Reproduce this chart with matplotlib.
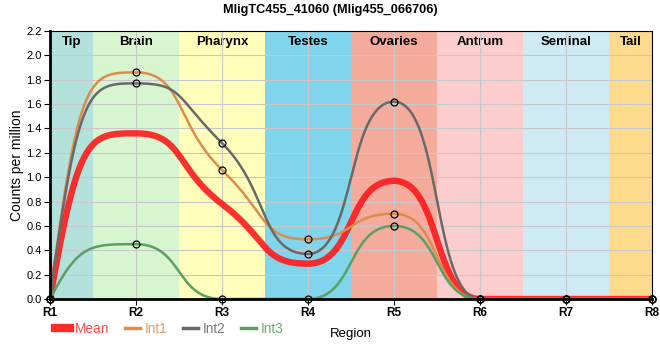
import numpy as np
import matplotlib

matplotlib.use("Agg")
import matplotlib.pyplot as plt
from matplotlib.lines import Line2D
from matplotlib.transforms import blended_transform_factory

plt.rcParams["font.family"] = ["Liberation Sans", "DejaVu Sans"]

# values
regions = ["R1", "R2", "R3", "R4", "R5", "R6", "R7", "R8"]
mean_cpm = [0.0, 1.36, 0.78, 0.29, 0.97, 0.0, 0.0, 0.0]
int1_cpm = [0.0, 1.86, 1.06, 0.49, 0.70, 0.0, 0.0, 0.0]
int2_cpm = [0.0, 1.77, 1.28, 0.37, 1.62, 0.0, 0.0, 0.0]
int3_cpm = [0.0, 0.45, 0.0, 0.0, 0.60, 0.0, 0.0, 0.0]

tissues = ["Tip", "Brain", "Pharynx", "Testes", "Ovaries", "Antrum", "Seminal", "Tail"]
tissue_colors = ["#b3e1dc", "#d7f5cf", "#ffffbb", "#80d4ec",
                 "#f5ab9c", "#fdcccc", "#ceebf5", "#fedb8c"]


def smooth(xs, ys, c=0.55, n=100):
    """bezier spline through the points, flat at extrema"""
    xs = np.asarray(xs, dtype=float)
    ys = np.asarray(ys, dtype=float)
    d = np.diff(ys) / np.diff(xs)
    m = np.zeros(len(xs))
    for i in range(1, len(xs) - 1):
        if d[i - 1] * d[i] > 0:
            s = (ys[i + 1] - ys[i - 1]) / (xs[i + 1] - xs[i - 1])
            lim = 3 * min(abs(d[i - 1]), abs(d[i]))
            m[i] = np.sign(s) * min(abs(s), lim)
    t = np.linspace(0, 1, n)[:, None]
    pts = []
    for i in range(len(xs) - 1):
        h = xs[i + 1] - xs[i]
        p0 = np.array([xs[i], ys[i]])
        p3 = np.array([xs[i + 1], ys[i + 1]])
        if i == 0:
            # steep start from the first point
            p1 = np.array([xs[i] + h / 3, ys[i + 1]])
        else:
            p1 = np.array([xs[i] + c * h, ys[i] + c * h * m[i]])
        p2 = np.array([xs[i + 1] - c * h, ys[i + 1] - c * h * m[i + 1]])
        seg = ((1 - t) ** 3) * p0 + 3 * ((1 - t) ** 2) * t * p1 + 3 * (1 - t) * t**2 * p2 + t**3 * p3
        pts.append(seg)
    pts = np.vstack(pts)
    return pts[:, 0], pts[:, 1]


x = np.arange(1, len(regions) + 1)
edges = np.concatenate([[x[0]], (x[:-1] + x[1:]) / 2, [x[-1]]])

fig = plt.figure(figsize=(6.6, 3.6), dpi=100)
ax = fig.add_axes([50 / 660, 1 - 299 / 360, 602 / 660, 268 / 360])

for (lo, hi), name, col in zip(zip(edges[:-1], edges[1:]), tissues, tissue_colors):
    ax.axvspan(lo, hi, color=col, lw=0, zorder=0)
    ax.text((lo + hi) / 2, 0.958, name, transform=blended_transform_factory(ax.transData, ax.transAxes),
            ha="center", va="center", fontsize=9.5, fontweight="bold", zorder=1)

series = [
    ("Int1", int1_cpm, "#de8b4c"),
    ("Int2", int2_cpm, "#696969"),
    ("Int3", int3_cpm, "#5c9f62"),
]

sx, sy = smooth(x, mean_cpm)
ax.plot(sx, sy, color="#ff1a1a", lw=4.6, alpha=0.9, solid_capstyle="butt", zorder=3)
for name, vals, col in series:
    sx, sy = smooth(x, vals)
    ax.plot(sx, sy, color=col, lw=1.8, zorder=4)
    ax.plot(x, vals, ls="none", marker="o", ms=5, mfc="none", mec="black", mew=0.9,
            zorder=6, clip_on=False)

ax.set_xlim(1, 8)
ax.set_ylim(0, 2.2)
ax.set_xticks(x)
ax.set_xticklabels(regions, fontsize=8.5, fontweight="bold")
ax.set_yticks(np.arange(0, 2.21, 0.2))
ax.set_yticklabels([f"{v:.1f}" for v in np.arange(0, 2.21, 0.2)], fontsize=8)
ax.tick_params(axis="both", length=4, width=0.8, color="black", pad=2)
ax.grid(True, color="#c8c8c8", lw=0.8, zorder=1)
ax.set_axisbelow(False)
for g in ax.get_xgridlines() + ax.get_ygridlines():
    g.set_zorder(1)

ax.spines["left"].set_linewidth(2)
ax.spines["bottom"].set_linewidth(2)
ax.spines["top"].set_linewidth(0.8)
ax.spines["right"].set_linewidth(0.8)
for sp in ax.spines.values():
    sp.set_zorder(5)

ax.set_ylabel("Counts per million", fontsize=10)
ax.yaxis.set_label_coords(-0.043, 0.5)
ax.set_xlabel("Region", fontsize=9.5)
ax.xaxis.set_label_coords(0.5, -0.11)

fig.text(0.5, 1 - 10 / 360, "MligTC455_41060 (Mlig455_066706)", ha="center", va="center",
         fontsize=9.2, fontweight="bold")

handles = [Line2D([], [], color="#ff2a2a", lw=6)]
labels = ["Mean"]
for name, vals, col in series:
    handles.append(Line2D([], [], color=col, lw=2.5))
    labels.append(name)
leg = fig.legend(handles, labels, loc="center left", bbox_to_anchor=(0.083, 1 - 329 / 360), ncol=4,
                 frameon=False, fontsize=9.8, handlelength=1.15, handletextpad=0.35,
                 columnspacing=1.1, borderaxespad=0, borderpad=0)
for txt, col in zip(leg.get_texts(), ["#ff4a4a", "#e49a5e", "#7a7a7a", "#6aab70"]):
    txt.set_color(col)

fig.savefig("out.png", dpi=100)
